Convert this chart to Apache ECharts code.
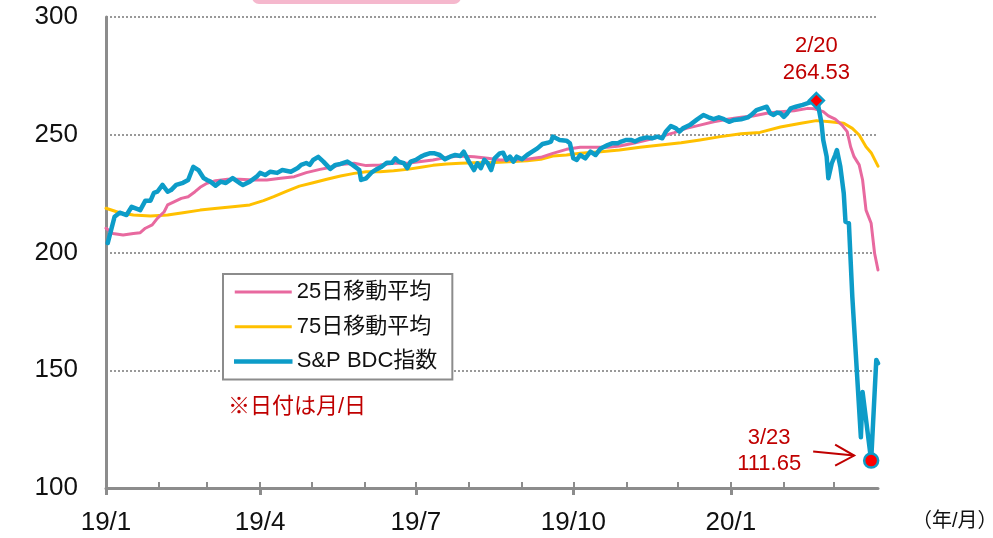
<!DOCTYPE html>
<html>
<head>
<meta charset="utf-8">
<script src="https://cdn.jsdelivr.net/npm/echarts@6/dist/echarts.min.js"></script>
<style>
  html, body { margin: 0; padding: 0; background: #fff; }
  #chart { width: 993px; height: 538px; }
</style>
</head>
<body>
<div id="chart"></div>
<script>
// S&P BDC index (daily close, sampled)
const bdcDates = [
  '2019-01-02','2019-01-06','2019-01-09','2019-01-13','2019-01-16','2019-01-21','2019-01-24','2019-01-27','2019-01-29','2019-01-31',
  '2019-02-03','2019-02-06','2019-02-08','2019-02-11','2019-02-15','2019-02-18','2019-02-21','2019-02-24','2019-02-27',
  '2019-03-01','2019-03-03','2019-03-06','2019-03-09','2019-03-12','2019-03-16','2019-03-20','2019-03-22','2019-03-26','2019-03-30',
  '2019-04-01','2019-04-04','2019-04-07','2019-04-11','2019-04-14','2019-04-19','2019-04-23','2019-04-25','2019-04-28','2019-04-30',
  '2019-05-02','2019-05-05','2019-05-08','2019-05-12','2019-05-15','2019-05-18','2019-05-22','2019-05-25','2019-05-29','2019-05-30',
  '2019-06-02','2019-06-05','2019-06-08','2019-06-11','2019-06-14','2019-06-17','2019-06-19','2019-06-21','2019-06-24','2019-06-26','2019-06-28',
  '2019-07-01','2019-07-04','2019-07-06','2019-07-09','2019-07-12','2019-07-15','2019-07-18','2019-07-21','2019-07-24','2019-07-27','2019-07-29',
  '2019-08-01','2019-08-04','2019-08-06','2019-08-08','2019-08-10','2019-08-12','2019-08-14','2019-08-16','2019-08-19','2019-08-21','2019-08-23','2019-08-25','2019-08-27','2019-08-29',
  '2019-09-01','2019-09-04','2019-09-07','2019-09-10','2019-09-13','2019-09-16','2019-09-18','2019-09-19','2019-09-21','2019-09-23','2019-09-27','2019-09-29',
  '2019-10-01','2019-10-03','2019-10-05','2019-10-08','2019-10-11','2019-10-14','2019-10-17','2019-10-21','2019-10-24','2019-10-27','2019-10-29',
  '2019-11-01','2019-11-04','2019-11-06','2019-11-09','2019-11-13','2019-11-16','2019-11-19','2019-11-22','2019-11-24','2019-11-27','2019-11-30',
  '2019-12-02','2019-12-04','2019-12-08','2019-12-12','2019-12-16','2019-12-19','2019-12-22','2019-12-25','2019-12-28','2019-12-31',
  '2020-01-03','2020-01-07','2020-01-11','2020-01-13','2020-01-16','2020-01-19','2020-01-22','2020-01-24','2020-01-26','2020-01-28','2020-01-30',
  '2020-02-01','2020-02-03','2020-02-05','2020-02-08','2020-02-12','2020-02-15','2020-02-17','2020-02-20','2020-02-21','2020-02-23','2020-02-24','2020-02-25','2020-02-26','2020-02-27','2020-02-29',
  '2020-03-02','2020-03-03','2020-03-05','2020-03-07','2020-03-08','2020-03-10','2020-03-11','2020-03-12','2020-03-17','2020-03-18','2020-03-23','2020-03-26','2020-03-27'
];
const bdcValues = [
  204.0,215.2,216.9,215.9,219.4,218.0,222.0,222.0,225.3,225.8,
  228.7,225.8,226.5,228.7,229.6,230.8,236.4,235.0,231.6,
  230.8,230.1,228.4,230.1,229.5,231.6,229.5,228.7,230.1,232.2,
  233.8,232.9,234.3,233.8,235.0,234.3,235.9,237.2,238.0,237.2,
  239.3,240.6,238.6,235.5,237.2,237.6,238.6,237.2,235.0,230.8,
  231.5,233.9,235.3,236.4,238.1,238.1,240.0,238.6,237.9,235.8,238.6,
  239.3,240.7,241.4,242.1,242.1,241.4,239.6,240.7,241.4,241.0,242.8,
  238.6,235.0,237.9,235.8,239.3,237.9,235.0,240.0,242.1,242.4,239.3,240.7,238.6,240.7,
  239.6,241.4,242.8,244.2,246.1,246.6,247.1,249.2,248.5,247.8,247.5,246.4,
  240.0,239.3,241.4,240.0,242.8,241.4,244.2,245.6,246.4,246.4,247.1,
  247.8,247.8,247.1,248.2,248.9,248.5,249.2,248.5,251.3,253.7,252.7,
  251.3,252.7,254.1,256.3,258.4,257.4,256.6,257.4,256.6,255.5,
  256.3,256.6,257.4,258.4,260.5,261.2,261.9,259.1,258.4,259.4,259.1,
  257.6,259.1,261.2,261.9,262.7,263.4,263.9,264.53,262.6,254.9,247.8,248.5,240.7,231.5,237.9,
  241.4,243.5,236.4,225.1,213.1,212.4,196.8,181.2,121.5,140.8,111.65,154.4,153.0
];

// 25-day moving average
const ma25Dates = [
  '2019-01-01','2019-01-05','2019-01-11','2019-01-17','2019-01-21','2019-01-24','2019-01-28','2019-01-31',
  '2019-02-04','2019-02-06','2019-02-10','2019-02-14','2019-02-18','2019-02-22','2019-02-25',
  '2019-03-01','2019-03-06','2019-03-13','2019-03-20','2019-03-28','2019-04-05','2019-04-13','2019-04-21','2019-04-28',
  '2019-05-06','2019-05-14','2019-05-18','2019-05-26','2019-06-02','2019-06-10','2019-06-18','2019-06-26',
  '2019-07-04','2019-07-11','2019-07-19','2019-07-27','2019-08-04','2019-08-12','2019-08-19','2019-08-27',
  '2019-09-04','2019-09-12','2019-09-19','2019-09-27','2019-10-05','2019-10-13','2019-10-21','2019-10-28',
  '2019-11-05','2019-11-13','2019-11-21','2019-11-29','2019-12-06','2019-12-14','2019-12-22','2019-12-30',
  '2020-01-07','2020-01-14','2020-01-22','2020-01-30','2020-02-07','2020-02-15','2020-02-19','2020-02-24','2020-02-27',
  '2020-03-02','2020-03-06','2020-03-09','2020-03-11','2020-03-13','2020-03-16','2020-03-18','2020-03-20','2020-03-23','2020-03-25','2020-03-27'
];
const ma25Values = [
  210.3,208.1,207.4,208.1,208.4,210.3,211.7,214.5,
  217.3,220.2,221.6,223.0,223.7,225.8,227.7,
  229.4,230.5,231.1,231.1,230.8,230.8,231.5,232.2,233.9,
  235.3,236.4,237.4,237.9,236.9,237.2,237.9,237.9,
  238.6,239.3,240.4,241.0,240.7,240.0,239.3,239.3,
  239.6,240.4,242.1,243.8,244.7,244.7,244.7,245.2,
  246.4,247.8,249.2,250.9,252.7,254.1,255.5,256.6,
  257.4,258.0,259.1,259.8,260.2,261.2,261.0,259.8,258.0,
  256.6,254.1,251.3,244.9,240.7,237.2,230.8,218.0,212.4,199.7,192.6
];

// 75-day moving average
const ma75Dates = [
  '2019-01-01','2019-01-09','2019-01-17','2019-01-27','2019-02-06','2019-02-15','2019-02-25',
  '2019-03-07','2019-03-16','2019-03-26','2019-04-03','2019-04-09','2019-04-17','2019-04-24',
  '2019-05-02','2019-05-10','2019-05-18','2019-05-26','2019-06-02','2019-06-10','2019-06-18','2019-06-26',
  '2019-07-04','2019-07-11','2019-07-19','2019-07-27','2019-08-04','2019-08-12','2019-08-19','2019-08-27',
  '2019-09-04','2019-09-12','2019-09-19','2019-09-27','2019-10-05','2019-10-17','2019-10-28',
  '2019-11-09','2019-11-21','2019-12-03','2019-12-14','2019-12-26',
  '2020-01-07','2020-01-18','2020-01-30','2020-02-11','2020-02-20','2020-02-28',
  '2020-03-07','2020-03-12','2020-03-16','2020-03-20','2020-03-23','2020-03-27'
];
const ma75Values = [
  218.8,216.9,215.9,215.5,215.9,216.9,218.0,
  218.8,219.4,220.2,222.0,223.7,226.2,228.2,
  229.6,231.1,232.5,233.6,234.3,234.3,234.7,235.3,
  236.2,237.0,237.6,237.9,238.1,238.1,238.3,238.6,
  239.0,239.6,241.0,241.4,242.1,242.8,243.5,
  244.7,245.6,246.6,247.8,249.2,
  250.4,251.0,253.3,254.9,256.0,255.5,
  254.9,252.7,249.9,244.9,242.4,236.7
];

// Highlighted points: peak and trough of the index
const noteDates = ['2020-02-20', '2020-03-23'];
const noteValues = [264.53, 111.65];

// Axis ticks and labels
const monthTicks = [
  '2019-01-01','2019-02-01','2019-03-01','2019-04-01','2019-05-01','2019-06-01','2019-07-01','2019-08-01',
  '2019-09-01','2019-10-01','2019-11-01','2019-12-01','2020-01-01','2020-02-01','2020-03-01'
];
const quarterTicks = ['2019-01-01','2019-04-01','2019-07-01','2019-10-01','2020-01-01'];
const quarterLabels = ['19/1','19/4','19/7','19/10','20/1'];
const xMin = '2019-01-01';
const xMax = '2020-03-27';

const FONT = "'Liberation Sans', Arial, 'Noto Sans CJK JP', sans-serif";
const GRAY = '#8c8c8c';
const RED_TEXT = '#c00000';
const C_MA25 = '#e8699f';
const C_MA75 = '#ffc000';
const C_BDC = '#0d9cc8';

// Dates are placed on a numeric axis as timestamps
const t = s => echarts.time.parse(s).getTime();
const zip = (ds, vs) => ds.map((d, i) => [t(d), vs[i]]);
const quarterTimes = quarterTicks.map(t);

const chart = echarts.init(document.getElementById('chart'), null, { renderer: 'canvas' });

const noteLabel = (d, v) => {
  const p = d.split('-');
  return (+p[1]) + '/' + (+p[2]) + '\n' + v.toFixed(2);
};

const baseGraphic = [
  {
    type: 'rect',
    shape: { x: 252, y: -12, width: 209, height: 16, r: 7 },
    style: { fill: '#f5b8cd' },
    silent: true
  },
  {
    type: 'text',
    left: 228, top: 396,
    style: { text: '※日付は月/日', fill: RED_TEXT, font: '22px ' + FONT }
  },
  {
    type: 'text',
    left: 912, top: 511,
    style: { text: '（年/月）', fill: '#111', font: '20px ' + FONT }
  }
];

const option = {
  animation: false,
  backgroundColor: '#fff',
  textStyle: { fontFamily: FONT },
  grid: { left: 106, right: 115, top: 17, bottom: 50, containLabel: false },
  xAxis: [
    {
      type: 'value',
      min: t(xMin),
      max: t(xMax),
      axisLine: { show: true, lineStyle: { color: GRAY, width: 3 } },
      axisTick: {
        show: true, inside: true, length: 6,
        customValues: monthTicks.map(t),
        lineStyle: { color: GRAY, width: 2 }
      },
      axisLabel: {
        show: true,
        customValues: quarterTimes,
        margin: 22,
        fontSize: 26,
        color: '#111',
        fontFamily: FONT,
        formatter: v => {
          const i = quarterTimes.indexOf(v);
          return i >= 0 ? quarterLabels[i] : '';
        }
      },
      splitLine: { show: false }
    },
    {
      type: 'value',
      min: t(xMin),
      max: t(xMax),
      position: 'bottom',
      axisLine: { show: false },
      axisTick: {
        show: true, inside: false, length: 7,
        customValues: quarterTimes,
        lineStyle: { color: GRAY, width: 3 }
      },
      axisLabel: { show: false },
      splitLine: { show: false }
    }
  ],
  yAxis: {
    type: 'value',
    min: 100,
    max: 300,
    interval: 50,
    axisLine: { show: true, lineStyle: { color: GRAY, width: 3 } },
    axisTick: { show: false },
    axisLabel: { margin: 28, fontSize: 26, color: '#111', fontFamily: FONT },
    splitLine: { show: true, lineStyle: { color: '#999', width: 2, type: [2, 2] } }
  },
  legend: {
    orient: 'vertical',
    left: 223,
    top: 274,
    padding: [7, 15, 7, 11],
    itemGap: 12.7,
    itemWidth: 57,
    itemHeight: 3,
    borderColor: GRAY,
    borderWidth: 2,
    backgroundColor: '#fff',
    selectedMode: false,
    textStyle: { fontSize: 22, lineHeight: 22, color: '#111', fontFamily: FONT },
    data: [
      { name: '25日移動平均', icon: 'rect' },
      { name: '75日移動平均', icon: 'rect' },
      { name: 'S&P BDC指数', icon: 'rect', itemStyle: { borderColor: C_BDC, borderWidth: 1.5 } }
    ]
  },
  series: [
    {
      name: '75日移動平均',
      type: 'line',
      data: zip(ma75Dates, ma75Values),
      symbol: 'none',
      lineStyle: { color: C_MA75, width: 3, join: 'round', cap: 'round' },
      itemStyle: { color: C_MA75 },
      z: 2
    },
    {
      name: '25日移動平均',
      type: 'line',
      data: zip(ma25Dates, ma25Values),
      symbol: 'none',
      lineStyle: { color: C_MA25, width: 3, join: 'round', cap: 'round' },
      itemStyle: { color: C_MA25 },
      z: 3
    },
    {
      name: 'S&P BDC指数',
      type: 'line',
      data: zip(bdcDates, bdcValues),
      symbol: 'none',
      lineStyle: { color: C_BDC, width: 4.5, join: 'round', cap: 'round' },
      itemStyle: { color: C_BDC },
      z: 4
    },
    {
      name: 'notes',
      type: 'scatter',
      z: 5,
      data: [
        {
          value: [t(noteDates[0]), noteValues[0]],
          symbol: 'diamond',
          symbolSize: 15,
          label: {
            show: true, position: 'top', distance: 5,
            formatter: noteLabel(noteDates[0], noteValues[0]),
            color: RED_TEXT, fontSize: 22, lineHeight: 27, align: 'center', fontFamily: FONT
          }
        },
        {
          value: [t(noteDates[1]), noteValues[1]],
          symbol: 'circle',
          symbolSize: 14,
          label: {
            show: true, position: 'inside', offset: [-102, -10],
            formatter: noteLabel(noteDates[1], noteValues[1]),
            color: RED_TEXT, fontSize: 22, lineHeight: 26, align: 'center', verticalAlign: 'middle', fontFamily: FONT
          }
        }
      ],
      itemStyle: { color: '#ff0000', borderColor: C_BDC, borderWidth: 2.5, opacity: 1 }
    }
  ],
  graphic: baseGraphic
};

chart.setOption(option);

// Arrow pointing at the trough, positioned from the trough's pixel location
const tp = chart.convertToPixel({ xAxisIndex: 0, yAxisIndex: 0 }, [t(noteDates[1]), noteValues[1]]);
const tip = [tp[0] - 17, tp[1] - 5];
const tail = [tp[0] - 58, tp[1] - 9];
chart.setOption({
  graphic: baseGraphic.concat([
    {
      type: 'line',
      shape: { x1: tail[0], y1: tail[1], x2: tip[0], y2: tip[1] },
      style: { stroke: RED_TEXT, lineWidth: 2 },
      z: 10
    },
    {
      type: 'polyline',
      shape: { points: [[tip[0] - 19, tip[1] - 11], tip, [tip[0] - 19, tip[1] + 10]] },
      style: { stroke: RED_TEXT, lineWidth: 2, fill: null },
      z: 10
    }
  ])
});
</script>
</body>
</html>
